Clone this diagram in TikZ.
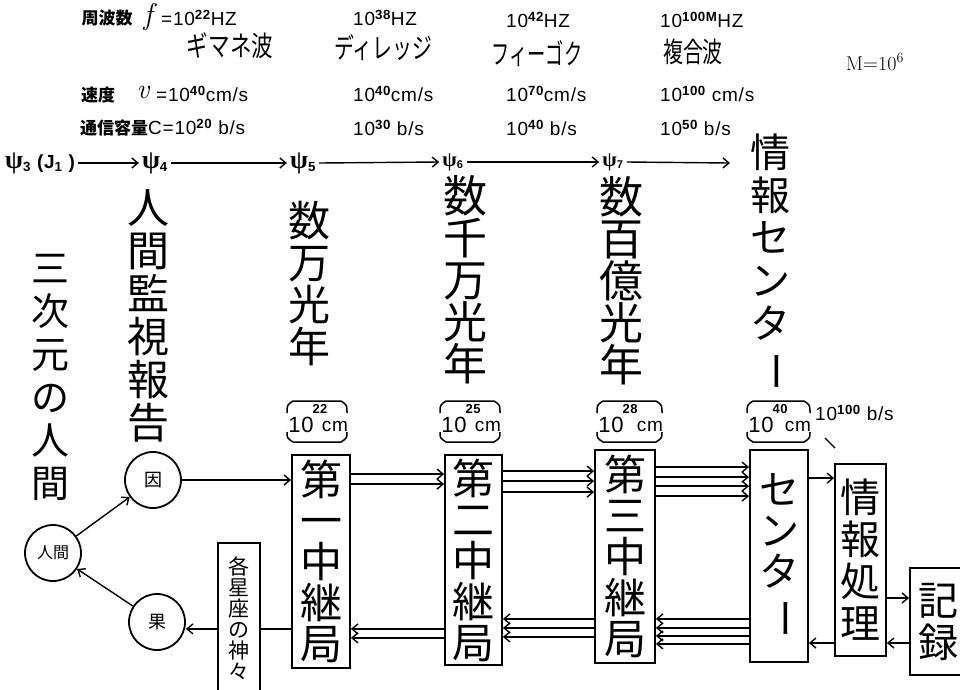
\documentclass[tikz,border=0pt]{standalone}
\usepackage{amsmath}
\usepackage{graphicx}
\usepackage{fontspec}
\usetikzlibrary{arrows.meta,calc}
\newfontfamily\cjk{Noto Sans CJK JP}
\newfontfamily\lab[LetterSpace=4]{Liberation Sans}
\newfontfamily\grk{Liberation Serif}
\newcommand\vchoon{\rotatebox[origin=c]{-90}{ー}}
\newcommand\lf{\lab\fontsize{19}{19}\selectfont}
\newcommand\jb{\cjk\bfseries\fontsize{17}{17}\selectfont}
\newcommand\nx[2]{\scalebox{#1}[1]{#2}}
\newcommand\psisub[2]{{\grk\bfseries\fontsize{#1}{#1}\selectfont ψ}\textsubscript{\lab\bfseries #2}}
\newcommand\bracketlbl[4]{%
  \draw[brk] (#2,413) .. controls (#2,405) .. (#2+6,401) -- (#3-6,401) .. controls (#3,405) .. (#3,413);
  \draw[brk] (#2,432) .. controls (#2,438) .. (#2+6,442) -- (#3-6,442) .. controls (#3,438) .. (#3,432);
  \node[inner sep=0pt,font=\lab\fontsize{22}{22}\selectfont] (#1a) at (#2+14,425) {10};
  \node[inner sep=0pt,font=\lab\bfseries\fontsize{13}{13}\selectfont] (#1b) at (#2+33,409) {#4};
  \node[inner sep=0pt,font=\lab\fontsize{19}{19}\selectfont] (#1c) at (#3-12,426) {cm};
}
\begin{document}
\begin{tikzpicture}[x=1pt,y=-1pt,
  box/.style={draw,line width=1.8pt,inner sep=0pt,align=center},
  circ/.style={draw,circle,line width=1.8pt,minimum size=56pt,inner sep=0pt},
  arr/.style={line width=1.4pt,-{Straight Barb[length=6pt,width=10pt]}},
  ln/.style={line width=1.4pt},
  brk/.style={line width=1.5pt},
  vt/.style={align=center,inner sep=0pt},
  lb/.style={anchor=west,inner sep=0pt,font=\lf},
  psi/.style={inner sep=3pt,font=\lab\bfseries\fontsize{19}{19}\selectfont}]
\useasboundingbox (0,0) rectangle (960,689);
\clip (0,0) rectangle (960,689);
\fill[white] (0,0) rectangle (960,689);

% ---- top table ----
\node[inner sep=0pt,font=\jb] (fq) at (107,18) {周波数};
\node[inner sep=0pt,font=\rmfamily\itshape\fontsize{30}{30}\selectfont] (fsym) at (148,17) {f};
\node[lb] (f1) at (161,18) {=10\textsuperscript{\bfseries 22}HZ};
\node[lb] (f2) at (353,18) {10\textsuperscript{\bfseries 38}HZ};
\node[lb] (f3) at (506,20) {10\textsuperscript{\bfseries 42}HZ};
\node[lb] (f4) at (660,20) {10\textsuperscript{\bfseries 100M}HZ};

\node[inner sep=0pt,font=\cjk\fontsize{28}{28}\selectfont] (w1) at (230,46) {\nx{0.77}{ギマネ波}};
\node[inner sep=0pt,font=\cjk\fontsize{28}{28}\selectfont] (w2) at (383,48) {\nx{0.71}{ディレッジ}};
\node[inner sep=0pt,font=\cjk\fontsize{28}{28}\selectfont] (w3) at (537,54) {\nx{0.65}{フィーゴク}};
\node[inner sep=0pt,font=\cjk\fontsize{28}{28}\selectfont] (w4) at (693,52) {\nx{0.71}{複合波}};
\node[anchor=west,inner sep=0pt,font=\rmfamily\fontsize{20}{20}\selectfont] (mm) at (846,62) {M$=$10\textsuperscript{6}};

\node[inner sep=0pt,font=\jb] (sp) at (98,95) {速度};
\node[inner sep=0pt,font=\rmfamily\itshape\fontsize{28}{28}\selectfont] (vsym) at (143,92) {v};
\node[lb] (v1) at (156,94) {=10\textsuperscript{\bfseries 40}cm/s};
\node[lb] (v2) at (353,94) {10\textsuperscript{\bfseries 40}cm/s};
\node[lb] (v3) at (506,94) {10\textsuperscript{\bfseries 70}cm/s};
\node[lb] (v4) at (660,94) {10\textsuperscript{\bfseries 100} cm/s};

\node[lb] (cq) at (80,128) {{\jb 通信容量}C=10\textsuperscript{\bfseries 20} b/s};
\node[lb] (cc2) at (353,128) {10\textsuperscript{\bfseries 30} b/s};
\node[lb] (cc3) at (506,128) {10\textsuperscript{\bfseries 40} b/s};
\node[lb] (cc4) at (660,128) {10\textsuperscript{\bfseries 50} b/s};

% ---- psi row ----
\node[psi,anchor=west] (p3) at (2,163) {\psisub{26}{3} (J\textsubscript{1} )};
\node[psi] (p4) at (155,163) {\psisub{26}{4}};
\node[psi] (p5) at (303,163) {\psisub{26}{5}};
\node[psi,font=\lab\bfseries\fontsize{16}{16}\selectfont] (p6) at (453,162) {\psisub{21}{6}};
\node[psi,font=\lab\bfseries\fontsize{16}{16}\selectfont] (p7) at (613,162) {\psisub{21}{7}};
\coordinate (pend) at (730,163);
\draw[arr] (p3.east) -- (p4.west);
\draw[arr] (p4.east) -- (p5.west);
\draw[arr] (p5.east) -- (p6.west);
\draw[arr] (p6.east) -- (p7.west);
\draw[arr] (p7.east) -- (pend);

% ---- vertical texts ----
\node[vt,font=\cjk\fontsize{38}{43}\selectfont] (t1) at (50,377) {三\\次\\元\\の\\人\\間};
\node[vt,font=\cjk\fontsize{42}{43}\selectfont] (t2) at (148,316) {人\\間\\監\\視\\報\\告};
\node[vt,font=\cjk\fontsize{42}{42}\selectfont] (t3) at (309,284) {数\\万\\光\\年};
\node[vt,font=\cjk\fontsize{44}{42}\selectfont] (t4) at (465,280) {数\\千\\万\\光\\年};
\node[vt,font=\cjk\fontsize{44}{42}\selectfont] (t5) at (621,281) {数\\百\\億\\光\\年};
\node[vt,font=\cjk\fontsize{40}{42.6}\selectfont] (t6) at (770,263) {情\\報\\セ\\ン\\タ\\\vchoon};

% ---- brackets ----
\bracketlbl{r1}{287}{347}{22}
\bracketlbl{r2}{440}{500}{25}
\bracketlbl{r3}{597}{662}{28}
\bracketlbl{r4}{747}{810}{40}
\node[anchor=west,inner sep=0pt,font=\lf] (rate) at (815,413) {10\textsuperscript{\bfseries 100} b/s};
\coordinate (tk1) at (825,438);
\coordinate (tk2) at (835,448);
\draw[ln] (tk1) -- (tk2);

% ---- boxes ----
\node[box,minimum width=58pt,minimum height=213pt,font=\cjk\fontsize{42}{41}\selectfont] (b1) at (321,561.5) {第\\一\\中\\継\\局};
\node[box,minimum width=57pt,minimum height=210pt,font=\cjk\fontsize{42}{41}\selectfont] (b2) at (473.5,560) {第\\二\\中\\継\\局};
\node[box,minimum width=60pt,minimum height=213pt,font=\cjk\fontsize{42}{41}\selectfont] (b3) at (625,556.5) {第\\三\\中\\継\\局};
\node[box,minimum width=58pt,minimum height=212pt,font=\cjk\fontsize{40}{41}\selectfont] (b4) at (779,556) {セ\\ン\\タ\\\vchoon};
\node[box,minimum width=51pt,minimum height=192pt,font=\cjk\fontsize{40}{42}\selectfont] (b5) at (860.5,560) {情\\報\\処\\理};
\node[box,minimum width=65pt,minimum height=107pt,font=\cjk\fontsize{40}{42}\selectfont] (b6) at (942.5,621.5) {\hspace*{-9pt}記\\\hspace*{-9pt}録};
\node[box,minimum width=42pt,minimum height=150pt,font=\cjk\fontsize{21}{21}\selectfont] (b0) at (239,618) {各\\星\\座\\の\\神\\々};

% ---- circles ----
\node[circ,font=\cjk\fontsize{18}{18}\selectfont] (c1) at (153,480) {因};
\node[circ,font=\cjk\fontsize{16}{16}\selectfont] (c0) at (53,553) {人間};
\node[circ,font=\cjk\fontsize{18}{18}\selectfont] (c2) at (157,622) {果};

% ---- connectors ----
\draw[arr] (c0) -- (c1);
\draw[arr] (c2) -- (c0);
\draw[arr] (c1.east) -- (c1.east -| b1.west);

\draw[arr] ([yshift=-20pt]b1.north east) coordinate (s) -- (s -| b2.west);
\draw[arr] ([yshift=-30pt]b1.north east) coordinate (s) -- (s -| b2.west);

\draw[arr] ([yshift=-17pt]b2.north east) coordinate (s) -- (s -| b3.west);
\draw[arr] ([yshift=-27pt]b2.north east) coordinate (s) -- (s -| b3.west);
\draw[arr] ([yshift=-38pt]b2.north east) coordinate (s) -- (s -| b3.west);

\draw[arr] ([yshift=-18pt]b3.north east) coordinate (s) -- (s -| b4.west);
\draw[arr] ([yshift=-28pt]b3.north east) coordinate (s) -- (s -| b4.west);
\draw[arr] ([yshift=-37pt]b3.north east) coordinate (s) -- (s -| b4.west);
\draw[arr] ([yshift=-47pt]b3.north east) coordinate (s) -- (s -| b4.west);

\draw[arr] ([yshift=-29pt]b4.north east) coordinate (s) -- (s -| b5.west);
\draw[arr] ([yshift=-38pt]b5.east) coordinate (s) -- (s -| b6.west);
\draw[arr] ([yshift=-21.5pt]b6.west) coordinate (s) -- (s -| b5.east);
\draw[arr] ([yshift=-83pt]b5.west) coordinate (s) -- (s -| b4.east);

\draw[arr] ([yshift=44pt]b4.south west) coordinate (s) -- (s -| b3.east);
\draw[arr] ([yshift=35pt]b4.south west) coordinate (s) -- (s -| b3.east);
\draw[arr] ([yshift=27pt]b4.south west) coordinate (s) -- (s -| b3.east);
\draw[arr] ([yshift=19pt]b4.south west) coordinate (s) -- (s -| b3.east);

\draw[arr] ([yshift=45pt]b3.south west) coordinate (s) -- (s -| b2.east);
\draw[arr] ([yshift=36pt]b3.south west) coordinate (s) -- (s -| b2.east);
\draw[arr] ([yshift=27pt]b3.south west) coordinate (s) -- (s -| b2.east);

\draw[arr] ([yshift=37pt]b2.south west) coordinate (s) -- (s -| b1.east);
\draw[arr] ([yshift=28pt]b2.south west) coordinate (s) -- (s -| b1.east);

\draw[ln] ([yshift=40pt]b1.south west) coordinate (s) -- (s -| b0.east);
\draw[arr] (s -| b0.west) -- (s -| c2.east);
\end{tikzpicture}
\end{document}
